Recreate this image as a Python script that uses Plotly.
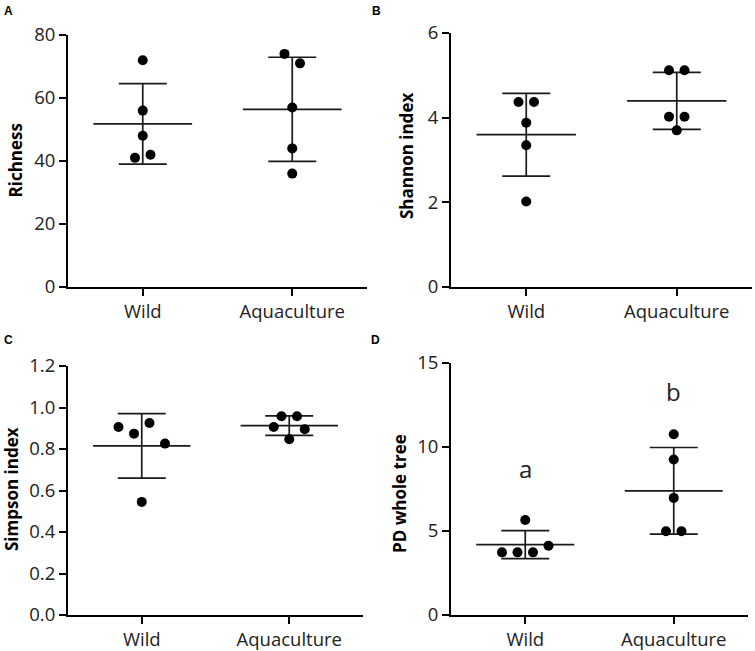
import numpy as np
import plotly.graph_objects as go

W, H = 755, 651

# ---------------- data ----------------
groups = ["Wild", "Aquaculture"]

richness_wild = [72, 56, 48, 41, 42]
richness_aqua = [74, 71, 57, 44, 36]
shannon_wild = [4.37, 4.37, 3.88, 3.35, 2.02]
shannon_aqua = [5.12, 5.12, 4.02, 4.02, 3.70]
simpson_wild = [0.906, 0.874, 0.925, 0.826, 0.545]
simpson_aqua = [0.958, 0.958, 0.906, 0.847, 0.895]
pd_wild = [5.65, 3.73, 3.73, 3.73, 4.12]
pd_aqua = [10.76, 9.26, 6.97, 4.99, 4.99]

richness_ticks = [0, 20, 40, 60, 80]
shannon_ticks = [0, 2, 4, 6]
simpson_ticks = [0.0, 0.2, 0.4, 0.6, 0.8, 1.0, 1.2]
simpson_ticklabels = ["0.0", "0.2", "0.4", "0.6", "0.8", "1.0", "1.2"]
pd_ticks = [0, 5, 10, 15]

pd_letters = ["a", "b"]
pd_letter_y = [8.7, 13.3]

# ---------------- layout (pixel boxes: x0, x1, ytop, ybottom) ----------------
panels = [
    dict(key="A", title="Richness", wild=richness_wild, aqua=richness_aqua,
         ticks=richness_ticks, ticklabels=[str(t) for t in richness_ticks],
         box=(68, 367, 35, 287), title_pos=(14.5, 161), letter_pos=(8, 11)),
    dict(key="B", title="Shannon index", wild=shannon_wild, aqua=shannon_aqua,
         ticks=shannon_ticks, ticklabels=[str(t) for t in shannon_ticks],
         box=(451, 752, 33, 287), title_pos=(407, 156), letter_pos=(376, 11)),
    dict(key="C", title="Simpson index", wild=simpson_wild, aqua=simpson_aqua,
         ticks=simpson_ticks, ticklabels=simpson_ticklabels,
         box=(68, 363, 366, 615), title_pos=(11, 489), letter_pos=(8, 340)),
    dict(key="D", title="PD whole tree", wild=pd_wild, aqua=pd_aqua,
         ticks=pd_ticks, ticklabels=[str(t) for t in pd_ticks],
         box=(451, 748, 363, 615), title_pos=(399, 494), letter_pos=(375, 340)),
]

MARKER = 10
ROW_SPACING = 15.5
CAP_PX = 24
MEAN_HALF = 0.33
FONT = "Open Sans"


def swarm_offsets(values, px_per_unit, thresh=MARKER, spacing=ROW_SPACING):
    """Prism-like arrangement: close values share a centred row."""
    v = np.asarray(values, float)
    order = np.argsort(v, kind="stable")
    clusters, cur = [], [order[0]]
    for a, b in zip(order[:-1], order[1:]):
        if (v[b] - v[a]) * px_per_unit < thresh:
            cur.append(b)
        else:
            clusters.append(cur)
            cur = [b]
    clusters.append(cur)
    off = np.zeros(len(v))
    for c in clusters:
        c = sorted(c)
        n = len(c)
        for k, i in enumerate(c):
            off[i] = (k - (n - 1) / 2) * spacing
    return off


fig = go.Figure()
layout = {}
annotations = []

for n, p in enumerate(panels, start=1):
    xa = "x" if n == 1 else f"x{n}"
    ya = "y" if n == 1 else f"y{n}"
    x0, x1, yt, yb = p["box"]
    ymax = p["ticks"][-1]
    px_y = (yb - yt) / ymax
    px_x = (x1 - x0) / 2.0

    for gi, vals in enumerate([p["wild"], p["aqua"]]):
        vals = np.asarray(vals, float)
        m = vals.mean()
        sd = vals.std(ddof=1)
        # mean line
        fig.add_trace(go.Scatter(
            x=[gi - MEAN_HALF, gi + MEAN_HALF], y=[m, m], mode="lines",
            line=dict(color="#1a1a1a", width=1.7), xaxis=xa, yaxis=ya,
            showlegend=False, hoverinfo="skip"))
        # SD error bar
        fig.add_trace(go.Scatter(
            x=[gi], y=[m], mode="markers", marker=dict(size=1, color="rgba(0,0,0,0)"),
            error_y=dict(type="data", array=[sd], visible=True, color="#1a1a1a",
                         thickness=1.7, width=CAP_PX),
            xaxis=xa, yaxis=ya, showlegend=False, hoverinfo="skip"))
        # points
        offs = swarm_offsets(vals, px_y) / px_x
        fig.add_trace(go.Scatter(
            x=gi + offs, y=vals, mode="markers",
            marker=dict(size=MARKER, color="black", line=dict(width=0)),
            xaxis=xa, yaxis=ya, showlegend=False))

    axis_common = dict(showline=True, linewidth=2, linecolor="black",
                       ticks="outside", ticklen=7, tickwidth=2, tickcolor="black",
                       showgrid=False, zeroline=False, automargin=False,
                       tickfont=dict(family=FONT, size=18.5, color="#222222"))
    layout["xaxis" if n == 1 else f"xaxis{n}"] = dict(
        domain=[x0 / W, x1 / W], anchor=ya, range=[-0.5, 1.5],
        tickvals=[0, 1], ticktext=groups, **axis_common)
    layout["yaxis" if n == 1 else f"yaxis{n}"] = dict(
        domain=[1 - yb / H, 1 - yt / H], anchor=xa, range=[0, ymax],
        tickvals=p["ticks"], ticktext=p["ticklabels"], **axis_common)

    tx, ty = p["title_pos"]
    annotations.append(dict(text=f"<b>{p['title']}</b>", x=tx / W, y=1 - ty / H,
                            xref="paper", yref="paper", showarrow=False, textangle=-90,
                            xanchor="center", yanchor="middle",
                            font=dict(family=FONT, size=17, color="black")))
    lx, ly = p["letter_pos"]
    annotations.append(dict(text=f"<b>{p['key']}</b>", x=lx / W, y=1 - ly / H,
                            xref="paper", yref="paper", showarrow=False,
                            xanchor="center", yanchor="middle",
                            font=dict(family="Liberation Sans", size=12, color="black")))

# significance letters on panel D
for gi, (lt, ly) in enumerate(zip(pd_letters, pd_letter_y)):
    annotations.append(dict(text=lt, x=gi, y=ly, xref="x4", yref="y4", showarrow=False,
                            xanchor="center", yanchor="middle",
                            font=dict(family=FONT, size=24, color="#222222")))

fig.update_layout(
    template="none",
    width=W, height=H, margin=dict(l=0, r=0, t=0, b=0, pad=0), autosize=False,
    paper_bgcolor="white", plot_bgcolor="white", hovermode=False,
    annotations=annotations, **layout)

fig.write_html("out.html",
               config={"displayModeBar": False, "staticPlot": True},
               post_script="document.body.style.margin='0';"
                           "document.body.style.padding='0';"
                           "document.body.style.overflow='hidden';")
